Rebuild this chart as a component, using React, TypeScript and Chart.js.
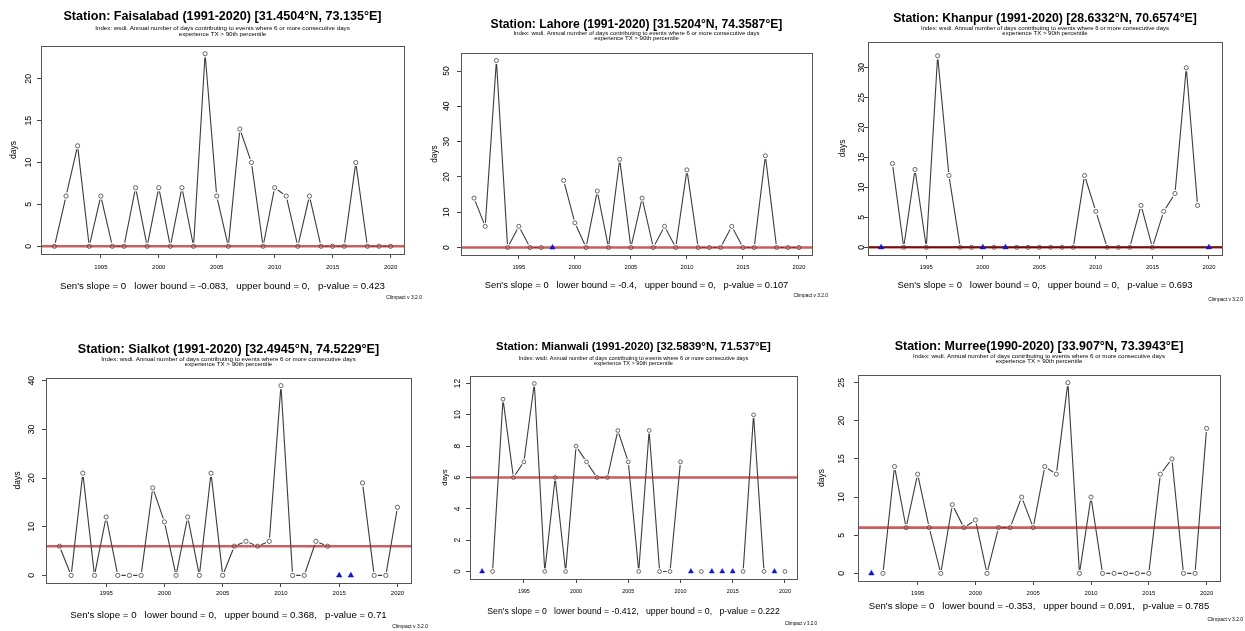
import React, { useEffect, useRef } from "react";
import { Chart, registerables } from "chart.js";

Chart.register(...registerables);

const PAGE_W = 1245;
const PAGE_H = 631;

// ---- data -------------------------------------------------------------
const years = [
  1991, 1992, 1993, 1994, 1995, 1996, 1997, 1998, 1999, 2000,
  2001, 2002, 2003, 2004, 2005, 2006, 2007, 2008, 2009, 2010,
  2011, 2012, 2013, 2014, 2015, 2016, 2017, 2018, 2019, 2020,
];
const xTickYears = [1995, 2000, 2005, 2010, 2015, 2020];

// WSDI (days) per year; null = missing year
const faisalabadDays = [0, 6, 12, 0, 6, 0, 0, 7, 0, 7, 0, 7, 0, 23, 6, 0, 14, 10, 0, 7, 6, 0, 6, 0, 0, 0, 10, 0, 0, 0];
const lahoreDays = [14, 6, 53, 0, 6, 0, 0, null, 19, 7, 0, 16, 0, 25, 0, 14, 0, 6, 0, 22, 0, 0, 0, 6, 0, 0, 26, 0, 0, 0];
const khanpurDays = [null, 14, 0, 13, 0, 32, 12, 0, 0, null, 0, null, 0, 0, 0, 0, 0, 0, 12, 6, 0, 0, 0, 7, 0, 6, 9, 30, 7, null];
const sialkotDays = [6, 0, 21, 0, 12, 0, 0, 0, 18, 11, 0, 12, 0, 21, 0, 6, 7, 6, 7, 39, 0, 0, 7, 6, null, null, 19, 0, 0, 14];
const mianwaliDays = [null, 0, 11, 6, 7, 12, 0, 6, 0, 8, 7, 6, 6, 9, 7, 0, 9, 0, 0, 7, null, 0, null, null, null, 0, 10, 0, null, 0];
const murreeDays = [null, 0, 14, 6, 13, 6, 0, 9, 6, 7, 0, 6, 6, 10, 6, 14, 13, 25, 0, 10, 0, 0, 0, 0, 0, 13, 15, 0, 0, 19];

const stationSeries = [faisalabadDays, lahoreDays, khanpurDays, sialkotDays, mianwaliDays, murreeDays];

const stationTitles = [
  "Station: Faisalabad (1991-2020) [31.4504°N, 73.135°E]",
  "Station: Lahore (1991-2020) [31.5204°N, 74.3587°E]",
  "Station: Khanpur (1991-2020) [28.6332°N, 70.6574°E]",
  "Station: Sialkot (1991-2020) [32.4945°N, 74.5229°E]",
  "Station: Mianwali (1991-2020) [32.5839°N, 71.537°E]",
  "Station: Murree(1990-2020) [33.907°N, 73.3943°E]",
];
const indexLines = [
  "Index: wsdi. Annual number of days contributing to events where 6 or more consecutive days",
  "experience TX > 90th percentile",
];
const trendNotes = [
  "Sen's slope = 0   lower bound = -0.083,   upper bound = 0,   p-value = 0.423",
  "Sen's slope = 0   lower bound = -0.4,   upper bound = 0,   p-value = 0.107",
  "Sen's slope = 0   lower bound = 0,   upper bound = 0,   p-value = 0.693",
  "Sen's slope = 0   lower bound = 0,   upper bound = 0.368,   p-value = 0.71",
  "Sen's slope = 0   lower bound = -0.412,   upper bound = 0,   p-value = 0.222",
  "Sen's slope = 0   lower bound = -0.353,   upper bound = 0.091,   p-value = 0.785",
];
const trendLevels = [0, 0, 0, 6, 6, 6];
const yTickValues = [
  [0, 5, 10, 15, 20],
  [0, 10, 20, 30, 40, 50],
  [0, 5, 10, 15, 20, 25, 30],
  [0, 10, 20, 30, 40],
  [0, 2, 4, 6, 8, 10, 12],
  [0, 5, 10, 15, 20, 25],
];
const yLimits = [
  [-0.92, 23.92],
  [-2.12, 55.12],
  [-1.28, 34.3],
  [-1.56, 40.56],
  [-0.48, 12.48],
  [-1, 26],
];
const xLimits = [1989.84, 2021.16];
const yAxisTitle = "days";
const versionLabel = "Climpact v 3.2.0";

// ---- layout -----------------------------------------------------------
// plot boxes [left, top, right, bottom] in page pixels
const plotBoxes = [
  [41, 46, 404, 254],
  [461, 53, 812, 255],
  [868, 42, 1222, 255],
  [46, 378, 411, 583],
  [470, 376, 797, 579],
  [858, 375, 1220, 581],
];
// [titleY, sub1Y, sub2Y, xTickY, noteY, versionY, versionRight, yTitleX, yTickX]
const textRows = [
  [17, 28.5, 34, 267, 286, 298, 422, 14, 29],
  [24.7, 33.3, 38.7, 267, 285.7, 296, 828, 435, 447],
  [18.7, 28.3, 33.7, 267, 285.7, 300, 1243, 843, 862],
  [350, 359.3, 364.3, 593, 615, 626.7, 428, 18, 32],
  [347.3, 358.3, 363.3, 591.7, 611.7, 624, 817, 445, 458],
  [346.2, 356, 361.7, 593, 606.7, 620, 1243, 822, 842],
];
const panelScale = [1, 0.967, 0.975, 1.0, 0.9, 0.99];
const trendColors = [
  "rgba(178,34,34,0.72)",
  "rgba(178,34,34,0.72)",
  "rgba(185,20,20,0.9)",
  "rgba(178,34,34,0.72)",
  "rgba(178,34,34,0.72)",
  "rgba(178,34,34,0.72)",
];
const trendCoreColors = [null, null, "#1a1a1a", null, null, null];

const FONT = '"Liberation Sans", Arial, Helvetica, sans-serif';

const panelDecor = {
  id: "panelDecor",
  afterDraw(chart: any, _args: any, o: any) {
    const ctx = chart.ctx as CanvasRenderingContext2D;
    const { left, top, right, bottom } = chart.chartArea;
    const s = o.scale;
    const r = o.rows;
    const cx = (left + right) / 2;
    const xs = chart.scales.x;
    const ys = chart.scales.y;
    ctx.save();
    ctx.fillStyle = "#000";
    ctx.textAlign = "center";
    ctx.textBaseline = "middle";

    ctx.font = `bold ${12.6 * s}px ${FONT}`;
    ctx.fillText(o.title, cx, r[0]);

    ctx.font = `${6.2 * s}px ${FONT}`;
    ctx.fillText(indexLines[0], cx, r[1]);
    ctx.fillText(indexLines[1], cx, r[2]);

    ctx.font = `${6 * s}px ${FONT}`;
    xTickYears.forEach((v) => ctx.fillText(String(v), xs.getPixelForValue(v), r[3]));

    ctx.font = `${8.8 * Math.max(s, 0.95)}px ${FONT}`;
    o.yTicks.forEach((v: number) => {
      ctx.save();
      ctx.translate(r[8], ys.getPixelForValue(v));
      ctx.rotate(-Math.PI / 2);
      ctx.fillText(String(v), 0, 0);
      ctx.restore();
    });
    ctx.save();
    ctx.translate(r[7], (top + bottom) / 2);
    ctx.rotate(-Math.PI / 2);
    ctx.font = `${8.6 * s}px ${FONT}`;
    ctx.fillText(yAxisTitle, 0, 0);
    ctx.restore();

    ctx.font = `${9.7 * s}px ${FONT}`;
    ctx.fillText(o.note, cx, r[4]);

    ctx.font = `${5 * s}px ${FONT}`;
    ctx.textAlign = "right";
    ctx.fillText(versionLabel, r[6], r[5]);

    ctx.strokeStyle = "#555";
    ctx.lineWidth = 1;
    ctx.strokeRect(Math.round(left) + 0.5, Math.round(top) + 0.5, Math.round(right - left), Math.round(bottom - top));
    ctx.restore();
  },
};

function buildConfig(i: number): any {
  const vals = stationSeries[i];
  const s = panelScale[i];
  const [bl, bt, br, bb] = plotBoxes[i];
  const axisSize = 4;
  const pts = years.map((yr, k) => ({ x: yr, y: vals[k] }));
  const present = pts.filter((p) => p.y !== null);
  const missing = years.filter((_, k) => vals[k] === null).map((yr) => ({ x: yr, y: 0 }));
  const trend = [
    { x: xLimits[0], y: trendLevels[i] },
    { x: xLimits[1], y: trendLevels[i] },
  ];

  const datasets: any[] = [
    {
      data: pts,
      borderColor: "#3c3c3c",
      borderWidth: 1.1,
      pointRadius: 0,
      spanGaps: false,
      order: 5,
    },
    {
      data: present,
      showLine: false,
      pointRadius: 3.7 * s,
      pointBackgroundColor: "#ffffff",
      pointBorderWidth: 0,
      order: 4,
    },
    {
      data: present,
      showLine: false,
      pointRadius: 2.1 * s,
      pointBackgroundColor: "#ffffff",
      pointBorderColor: "#555555",
      pointBorderWidth: 0.9,
      order: 3,
    },
    {
      data: trend,
      borderColor: trendColors[i],
      borderWidth: 2.6 * s,
      pointRadius: 0,
      order: 2,
    },
  ];
  if (trendCoreColors[i]) {
    datasets.push({
      data: trend,
      borderColor: trendCoreColors[i],
      borderWidth: 0.8,
      pointRadius: 0,
      order: 1,
    });
  }
  datasets.push({
    data: missing,
    showLine: false,
    pointStyle: "triangle",
    pointRadius: 3.2 * s,
    pointBackgroundColor: "#1212cc",
    pointBorderColor: "#1212cc",
    pointBorderWidth: 0.5,
    order: 0,
  });

  return {
    type: "line",
    data: { datasets },
    plugins: [panelDecor],
    options: {
      animation: false,
      responsive: false,
      devicePixelRatio: 1,
      events: [],
      layout: {
        padding: {
          left: bl - axisSize,
          top: bt,
          right: PAGE_W - br,
          bottom: PAGE_H - bb - axisSize,
        },
      },
      plugins: {
        legend: { display: false },
        tooltip: { enabled: false },
        title: { display: false },
        panelDecor: {
          scale: s,
          rows: textRows[i],
          title: stationTitles[i],
          note: trendNotes[i],
          yTicks: yTickValues[i],
        },
      },
      scales: {
        x: {
          type: "linear",
          min: xLimits[0],
          max: xLimits[1],
          afterBuildTicks: (sc: any) => {
            sc.ticks = xTickYears.map((v) => ({ value: v }));
          },
          afterFit: (sc: any) => {
            sc.height = axisSize;
          },
          ticks: { display: false },
          border: { display: false },
          grid: { drawOnChartArea: false, drawTicks: true, tickLength: 4, color: "#444", lineWidth: 1 },
        },
        y: {
          type: "linear",
          min: yLimits[i][0],
          max: yLimits[i][1],
          afterBuildTicks: (sc: any) => {
            sc.ticks = yTickValues[i].map((v) => ({ value: v }));
          },
          afterFit: (sc: any) => {
            sc.width = axisSize;
          },
          ticks: { display: false },
          border: { display: false },
          grid: { drawOnChartArea: false, drawTicks: true, tickLength: 4, color: "#444", lineWidth: 1 },
        },
      },
    },
  };
}

function StationPanel({ index }: { index: number }) {
  const ref = useRef<HTMLCanvasElement | null>(null);
  useEffect(() => {
    if (!ref.current) return;
    const chart = new Chart(ref.current, buildConfig(index));
    return () => chart.destroy();
  }, [index]);
  return (
    <canvas
      ref={ref}
      width={PAGE_W}
      height={PAGE_H}
      style={{ position: "absolute", left: 0, top: 0, width: PAGE_W, height: PAGE_H }}
    />
  );
}

export default function App() {
  return (
    <div style={{ position: "absolute", left: 0, top: 0, width: PAGE_W, height: PAGE_H, background: "#fff", overflow: "hidden" }}>
      {stationSeries.map((_, i) => (
        <StationPanel key={i} index={i} />
      ))}
    </div>
  );
}
